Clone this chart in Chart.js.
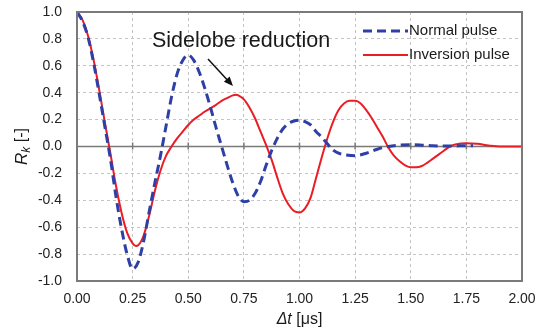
<!DOCTYPE html>
<html>
<head>
<meta charset="utf-8">
<script src="https://cdn.jsdelivr.net/npm/chart.js@4/dist/chart.umd.min.js"></script>
<style>
  html, body { margin: 0; padding: 0; background: #fff; }
  #wrap { width: 539px; height: 333px; }
</style>
</head>
<body>
<div id="wrap"><canvas id="c" width="539" height="333"></canvas></div>
<script>
// tick labels
const xTicks = [0, 0.25, 0.5, 0.75, 1.0, 1.25, 1.5, 1.75, 2.0];
const yTicks = [-1.0, -0.8, -0.6, -0.4, -0.2, 0.0, 0.2, 0.4, 0.6, 0.8, 1.0];

// Normal pulse (blue dashed)
const tNormal = [0, 0.025, 0.05, 0.075, 0.1, 0.125, 0.15, 0.175, 0.2, 0.225, 0.25, 0.275, 0.3, 0.325, 0.35, 0.375, 0.4, 0.425, 0.45, 0.475, 0.5, 0.525, 0.55, 0.575, 0.6, 0.625, 0.65, 0.675, 0.7, 0.725, 0.75, 0.775, 0.8, 0.825, 0.85, 0.875, 0.9, 0.925, 0.95, 0.975, 1.0, 1.025, 1.05, 1.075, 1.1, 1.125, 1.15, 1.175, 1.2, 1.25, 1.3, 1.35, 1.4, 1.45, 1.5, 1.55, 1.6, 1.65, 1.7, 1.75, 1.78];
const normalPulse = [1.0, 0.93, 0.81, 0.62, 0.39, 0.15, -0.09, -0.37, -0.61, -0.80, -0.91, -0.86, -0.70, -0.48, -0.27, -0.07, 0.15, 0.37, 0.54, 0.64, 0.68, 0.64, 0.55, 0.43, 0.29, 0.14, 0.0, -0.14, -0.27, -0.37, -0.41, -0.40, -0.35, -0.26, -0.14, -0.03, 0.06, 0.13, 0.17, 0.19, 0.195, 0.185, 0.16, 0.11, 0.07, 0.02, -0.025, -0.05, -0.06, -0.068, -0.05, -0.02, 0.0, 0.01, 0.013, 0.01, 0.005, 0.003, 0.004, 0.006, 0.006];

// Inversion pulse (red solid)
const tInversion = [0, 0.025, 0.05, 0.075, 0.1, 0.125, 0.15, 0.175, 0.2, 0.225, 0.25, 0.265, 0.275, 0.3, 0.325, 0.35, 0.375, 0.4, 0.425, 0.45, 0.475, 0.5, 0.525, 0.55, 0.575, 0.6, 0.625, 0.65, 0.675, 0.7, 0.715, 0.725, 0.75, 0.775, 0.8, 0.825, 0.85, 0.875, 0.9, 0.925, 0.95, 0.975, 1.0, 1.025, 1.05, 1.075, 1.1, 1.125, 1.15, 1.175, 1.2, 1.225, 1.25, 1.275, 1.3, 1.325, 1.35, 1.375, 1.4, 1.425, 1.45, 1.475, 1.5, 1.525, 1.55, 1.575, 1.6, 1.625, 1.65, 1.675, 1.7, 1.75, 1.8, 1.85, 1.9, 2.0];
const inversionPulse = [1.0, 0.94, 0.82, 0.64, 0.42, 0.18, -0.05, -0.29, -0.49, -0.64, -0.72, -0.74, -0.735, -0.66, -0.51, -0.33, -0.18, -0.07, 0.0, 0.06, 0.11, 0.16, 0.20, 0.23, 0.26, 0.285, 0.31, 0.34, 0.36, 0.38, 0.385, 0.38, 0.35, 0.29, 0.21, 0.11, 0.01, -0.10, -0.23, -0.35, -0.43, -0.48, -0.49, -0.46, -0.38, -0.23, -0.08, 0.06, 0.18, 0.27, 0.32, 0.34, 0.34, 0.32, 0.27, 0.21, 0.14, 0.07, -0.01, -0.07, -0.11, -0.14, -0.155, -0.155, -0.145, -0.12, -0.09, -0.06, -0.03, 0.0, 0.015, 0.025, 0.02, 0.008, 0.0, 0.0];

const FONT = "'Liberation Sans', Arial, sans-serif";

const pts = (xs, ys) => xs.map((x, i) => ({ x: x, y: ys[i] }));

// box, zero line and little ticks on the zero line
const framePlugin = {
  id: "frame",
  beforeDatasetsDraw(chart) {
    const { ctx, chartArea: a, scales } = chart;
    const y0 = scales.y.getPixelForValue(0);
    ctx.save();
    ctx.strokeStyle = "#7a7a7a";
    ctx.lineWidth = 1.5;
    ctx.beginPath();
    ctx.moveTo(a.left, y0);
    ctx.lineTo(a.right, y0);
    xTicks.slice(1, -1).forEach(v => {
      const x = scales.x.getPixelForValue(v);
      ctx.moveTo(x, y0 - 4);
      ctx.lineTo(x, y0 + 3);
    });
    ctx.stroke();
    ctx.restore();
  },
  afterDraw(chart) {
    const { ctx, chartArea: a } = chart;
    ctx.save();
    ctx.strokeStyle = "#7a7a7a";
    ctx.lineWidth = 2;
    ctx.strokeRect(a.left, a.top, a.right - a.left, a.bottom - a.top);
    ctx.restore();
  }
};

// legend in the top right corner, annotation and axis titles
const textPlugin = {
  id: "texts",
  afterDraw(chart) {
    const { ctx, chartArea: a } = chart;
    ctx.save();
    ctx.fillStyle = "#1a1a1a";
    ctx.textBaseline = "middle";

    chart.data.datasets.forEach((ds, i) => {
      const y = a.top + 19 + i * 24;
      const x0 = a.right - 159;
      ctx.strokeStyle = ds.borderColor;
      ctx.lineWidth = ds.borderWidth;
      ctx.setLineDash(ds.borderDash || []);
      ctx.beginPath();
      ctx.moveTo(x0, y);
      ctx.lineTo(x0 + 45, y);
      ctx.stroke();
      ctx.setLineDash([]);
      ctx.font = "15px " + FONT;
      ctx.textAlign = "left";
      ctx.fillText(ds.label, x0 + 46, y);
    });

    // annotation
    ctx.textBaseline = "alphabetic";
    ctx.font = "21.5px " + FONT;
    ctx.textAlign = "left";
    ctx.fillText("Sidelobe reduction", 152, 47);
    ctx.strokeStyle = "#111";
    ctx.lineWidth = 1.5;
    ctx.beginPath();
    ctx.moveTo(208, 59);
    ctx.lineTo(231, 84);
    ctx.stroke();
    ctx.fillStyle = "#111";
    const ang = Math.atan2(84 - 59, 231 - 208);
    ctx.beginPath();
    ctx.moveTo(233, 86);
    ctx.lineTo(233 - 10 * Math.cos(ang - 0.4), 86 - 10 * Math.sin(ang - 0.4));
    ctx.lineTo(233 - 10 * Math.cos(ang + 0.4), 86 - 10 * Math.sin(ang + 0.4));
    ctx.closePath();
    ctx.fill();

    // x title: Δt [μs]
    ctx.textBaseline = "middle";
    ctx.fillStyle = "#1a1a1a";
    ctx.textAlign = "left";
    const p1 = "Δt";
    ctx.font = "italic 16px " + FONT;
    const w1 = ctx.measureText(p1).width;
    ctx.font = "16px " + FONT;
    const p2 = " [μs]";
    const w2 = ctx.measureText(p2).width;
    const xs = (a.left + a.right) / 2 - (w1 + w2) / 2;
    ctx.font = "italic 16px " + FONT;
    ctx.fillText(p1, xs, 320);
    ctx.font = "16px " + FONT;
    ctx.fillText(p2, xs + w1, 320);

    // y title: R_k [-]
    ctx.translate(22, (a.top + a.bottom) / 2);
    ctx.rotate(-Math.PI / 2);
    ctx.font = "italic 17px " + FONT;
    const wr = ctx.measureText("R").width;
    ctx.font = "italic 12px " + FONT;
    const wk = ctx.measureText("k").width;
    ctx.font = "16px " + FONT;
    const wb = ctx.measureText(" [-]").width;
    const s = -(wr + wk + wb) / 2;
    ctx.font = "italic 17px " + FONT;
    ctx.fillText("R", s, 0);
    ctx.font = "italic 12px " + FONT;
    ctx.fillText("k", s + wr, 5);
    ctx.font = "16px " + FONT;
    ctx.fillText(" [-]", s + wr + wk, 0);
    ctx.restore();
  }
};

new Chart(document.getElementById("c"), {
  type: "line",
  data: {
    datasets: [
      {
        label: "Normal pulse",
        data: pts(tNormal, normalPulse),
        borderColor: "#2e3fa6",
        borderWidth: 3,
        borderDash: [9, 5],
        pointRadius: 0,
        fill: false,
        cubicInterpolationMode: "monotone",
      },
      {
        label: "Inversion pulse",
        data: pts(tInversion, inversionPulse),
        borderColor: "#ea1c24",
        borderWidth: 2,
        pointRadius: 0,
        fill: false,
        cubicInterpolationMode: "monotone",
      },
    ],
  },
  options: {
    responsive: false,
    animation: false,
    layout: { padding: { top: 12, right: 17, left: 0, bottom: 0 } },
    plugins: {
      legend: { display: false },
      tooltip: { enabled: false },
    },
    scales: {
      x: {
        type: "linear",
        min: 0,
        max: 2,
        afterBuildTicks: s => { s.ticks = xTicks.map(v => ({ value: v })); },
        afterFit: s => { s.height = 52; s.paddingLeft = 0; s.paddingRight = 0; },
        ticks: {
          padding: 10,
          color: "#222",
          font: { family: FONT, size: 14 },
          callback: v => v.toFixed(2),
          maxRotation: 0,
        },
        grid: { color: "#c4c4c4", drawTicks: false },
        border: { display: false, dash: [3, 3] },
      },
      y: {
        type: "linear",
        min: -1,
        max: 1,
        afterBuildTicks: s => { s.ticks = yTicks.map(v => ({ value: v })); },
        afterFit: s => { s.width = 77; s.paddingTop = 0; s.paddingBottom = 0; },
        ticks: {
          padding: 15,
          color: "#222",
          font: { family: FONT, size: 14 },
          callback: v => v.toFixed(1),
        },
        grid: { color: "#c4c4c4", drawTicks: false },
        border: { display: false, dash: [3, 3] },
      },
    },
  },
  plugins: [framePlugin, textPlugin],
});
</script>
</body>
</html>
